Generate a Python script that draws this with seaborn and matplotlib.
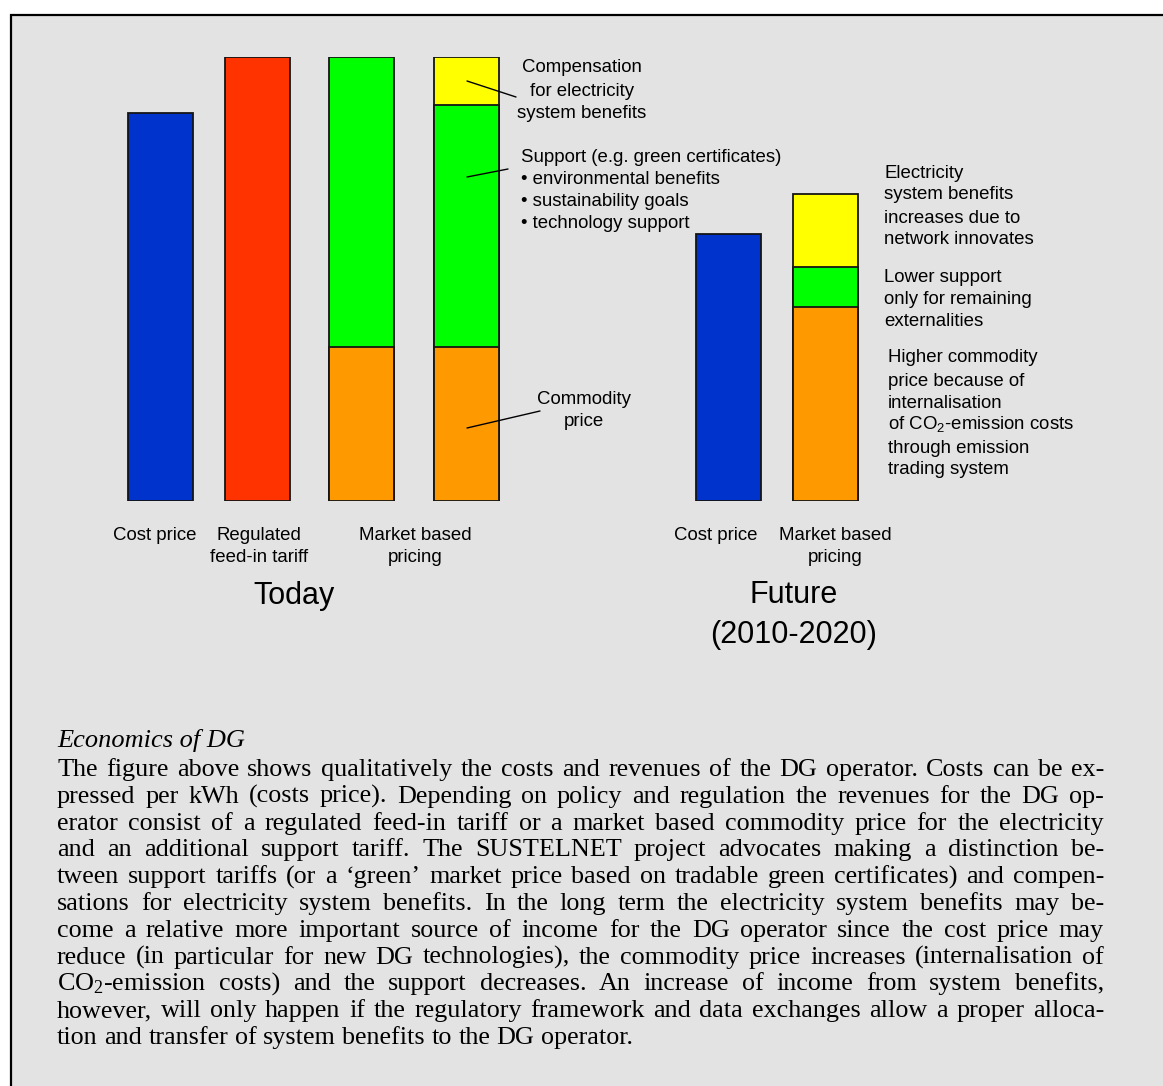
import numpy as np
import pandas as pd
import matplotlib
matplotlib.use("Agg")
import matplotlib.pyplot as plt
from matplotlib.lines import Line2D
from matplotlib.patches import Rectangle
import seaborn as sns

# --- data (qualitative heights, full tariff = 100) ---
bars = ["Cost price", "Regulated feed-in tariff", "Market based pricing",
        "Market based pricing + benefits", "Future cost price", "Future market based pricing"]
base_kind = ["Cost price", "Feed-in tariff", "Commodity price", "Commodity price",
             "Cost price", "Commodity price"]
base_value = [87.3, 100.0, 34.6, 34.6, 60.1, 43.6]
support_value = [0.0, 0.0, 65.4, 54.5, 0.0, 9.1]
compensation_value = [0.0, 0.0, 0.0, 10.9, 0.0, 16.4]

segment_colors = {
    "Cost price": "#0033cc",
    "Feed-in tariff": "#ff3300",
    "Commodity price": "#ff9900",
    "Support": "#00ff00",
    "Compensation": "#ffff00",
}

body_title = "Economics of DG"
body_lines = [
    "The figure above shows qualitatively the costs and revenues of the DG operator. Costs can be ex-",
    "pressed per kWh (costs price). Depending on policy and regulation the revenues for the DG op-",
    "erator consist of a regulated feed-in tariff or a market based commodity price for the electricity",
    "and an additional support tariff. The SUSTELNET project advocates making a distinction be-",
    "tween support tariffs (or a \u2018green\u2019 market price based on tradable green certificates) and compen-",
    "sations for electricity system benefits. In the long term the electricity system benefits may be-",
    "come a relative more important source of income for the DG operator since the cost price may",
    "reduce (in particular for new DG technologies), the commodity price increases (internalisation of",
    "CO$\\mathregular{_2}$-emission costs) and the support decreases. An increase of income from system benefits,",
    "however, will only happen if the regulatory framework and data exchanges allow a proper alloca-",
    "tion and transfer of system benefits to the DG operator.",
]

# --- layout (pixel units of the 1163 x 1086 canvas) ---
W, H = 1163, 1086
bar_x = [160.4, 257.2, 361.9, 466.5, 728.5, 825.4]
bar_w = 65.0
y_zero, y_full = 500.7, 56.7
sans = "Liberation Sans"
serif = "Liberation Serif"


def fx(x):
    return x / W


def fy(y):
    return 1 - y / H


def main():
    sns.set_style("white")
    plt.rcParams["text.color"] = "black"
    fig = plt.figure(figsize=(W / 100, H / 100), dpi=100)
    fig.patch.set_facecolor("white")

    frame = Rectangle((fx(11), fy(1110)), fx(1190) - fx(11), fy(15) - fy(1110),
                      transform=fig.transFigure, facecolor="#e3e3e3",
                      edgecolor="black", lw=1.6, zorder=-5)
    fig.add_artist(frame)

    ax = fig.add_axes([0, fy(y_zero), 1, (y_zero - y_full) / H])
    ax.patch.set_alpha(0)

    vals = np.column_stack([base_value, support_value, compensation_value])
    tops = vals.cumsum(axis=1)
    kinds = np.column_stack([base_kind, ["Support"] * len(bars), ["Compensation"] * len(bars)])
    min_gap = np.min(np.diff(sorted(bar_x)))

    # stacked bars: draw cumulative tops from the highest segment down
    for level in (2, 1, 0):
        layer = pd.DataFrame({
            "x": bar_x,
            "top": np.where(vals[:, level] > 0, tops[:, level], np.nan),
            "segment": kinds[:, level],
        })
        sns.barplot(data=layer, x="x", y="top", hue="segment", palette=segment_colors,
                    native_scale=True, dodge=False, width=bar_w / min_gap, saturation=1,
                    errorbar=None, edgecolor="#151515", linewidth=1.3, legend=False, ax=ax)

    ax.set_xlim(0, W)
    ax.set_ylim(0, 100)
    ax.axis("off")

    def line(x, y, s, size=13.4, ha="left", **kw):
        fig.text(fx(x), fy(y), s, ha=ha, va="baseline", fontsize=size, family=sans,
                 color="black", **kw)

    # annotations next to the bars
    for y, s in zip([72.5, 95.5, 117.5], ["Compensation", "for electricity", "system benefits"]):
        line(582, y, s, ha="center")
    for y, s in zip([161.5, 183.5, 206.5, 228.5],
                    ["Support (e.g. green certificates)", "\u2022 environmental benefits",
                     "\u2022 sustainability goals", "\u2022 technology support"]):
        line(521, y, s)
    for y, s in zip([403.5, 425.5], ["Commodity", "price"]):
        line(584, y, s, ha="center")
    for y, s in zip([178.5, 199.5, 222.5, 244.5],
                    ["Electricity", "system benefits", "increases due to", "network innovates"]):
        line(884, y, s)
    for y, s in zip([282.5, 304.5, 326.5], ["Lower support", "only for remaining", "externalities"]):
        line(884, y, s)
    for y, s in zip([362.5, 385.5, 407.5, 429.5, 452.5, 474.5],
                    ["Higher commodity", "price because of", "internalisation",
                     "of CO$\\mathregular{_2}$-emission costs", "through emission", "trading system"]):
        line(888, y, s)

    for (x0, y0), (x1, y1) in [((467, 81), (516, 97)), ((467, 177), (508, 169)),
                               ((467, 428), (540, 411))]:
        fig.add_artist(Line2D([fx(x0), fx(x1)], [fy(y0), fy(y1)], color="black", lw=1.0,
                              transform=fig.transFigure))

    # category labels under the bars
    line(155, 539.5, "Cost price", ha="center")
    line(259, 539.5, "Regulated", ha="center")
    line(259, 561.5, "feed-in tariff", ha="center")
    line(415, 539.5, "Market based", ha="center")
    line(415, 561.5, "pricing", ha="center")
    line(716, 539.5, "Cost price", ha="center")
    line(835, 539.5, "Market based", ha="center")
    line(835, 561.5, "pricing", ha="center")
    line(294, 604, "Today", size=22, ha="center")
    line(794, 603, "Future", size=22, ha="center")
    line(794, 643, "(2010-2020)", size=22, ha="center")

    # caption text, justified
    left, right, size = 57, 1104, 18.8
    fig.text(fx(left), fy(747), body_title, family=serif, style="italic", fontsize=19.0,
             va="baseline", color="black")
    renderer = fig.canvas.get_renderer()
    probe_a = fig.text(0, 0, "a a", family=serif, fontsize=size)
    probe_b = fig.text(0, 0, "aa", family=serif, fontsize=size)
    space_w = probe_a.get_window_extent(renderer).width - probe_b.get_window_extent(renderer).width
    probe_a.remove()
    probe_b.remove()
    for i, text in enumerate(body_lines):
        y = 776 + 26.8 * i
        words = text.split(" ")
        items = [fig.text(0, fy(y), w, family=serif, fontsize=size, va="baseline",
                          color="black") for w in words]
        widths = [t.get_window_extent(renderer).width for t in items]
        if i == len(body_lines) - 1:
            gap = space_w
        else:
            gap = (right - left - sum(widths)) / (len(words) - 1)
        x = left
        for t, w in zip(items, widths):
            t.set_x(fx(x))
            x += w + gap

    fig.savefig("out.png", dpi=100, facecolor="white")


if __name__ == "__main__":
    main()
